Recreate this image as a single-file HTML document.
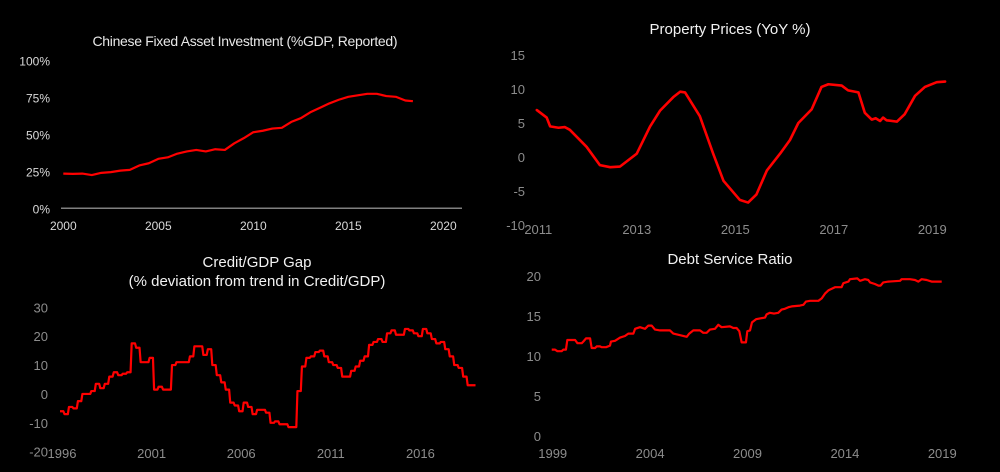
<!DOCTYPE html>
<html><head><meta charset="utf-8">
<style>
html,body{margin:0;padding:0;background:#000;}
svg{display:block;font-family:"Liberation Sans",sans-serif;}
</style></head>
<body>
<svg id="c" width="1000" height="472" viewBox="0 0 1000 472">
<rect width="1000" height="472" fill="#000"/>
</svg>
<script>
// Chart 1: Chinese FAI %GDP
const faiYears=[2000,2000.5,2001,2001.5,2002,2002.5,2003,2003.5,2004,2004.5,2005,2005.5,2006,2006.5,2007,2007.5,2008,2008.5,2009,2009.5,2010,2010.5,2011,2011.5,2012,2012.5,2013,2013.5,2014,2014.5,2015,2015.5,2016,2016.5,2017,2017.5,2018,2018.4];
const faiValues=[23.5,23.3,23.5,22.5,24,24.5,25.5,26,29,30.5,33.5,34.5,37,38.5,39.5,38.5,40,39.5,44,47.5,51.5,52.5,54,54.5,58.5,61,65,68,71,73.5,75.5,76.5,77.5,77.5,76,75.5,73,72.5];
const faiYTicks=[0,25,50,75,100];
const faiXTicks=[2000,2005,2010,2015,2020];
// Chart 2: Property prices YoY
const ppYears=[2010.97,2011.17,2011.24,2011.41,2011.54,2011.64,2011.98,2012.25,2012.46,2012.66,2013.0,2013.27,2013.47,2013.74,2013.88,2013.98,2014.28,2014.55,2014.76,2015.09,2015.26,2015.43,2015.64,2015.91,2016.11,2016.28,2016.55,2016.75,2016.89,2017.16,2017.29,2017.5,2017.63,2017.77,2017.85,2017.94,2018.0,2018.07,2018.28,2018.44,2018.65,2018.85,2019.09,2019.26];
const ppValues=[6.9,5.8,4.5,4.3,4.4,4.0,1.5,-1.2,-1.5,-1.4,0.5,4.5,6.8,8.8,9.6,9.5,6,0.5,-3.5,-6.3,-6.7,-5.5,-2,0.5,2.5,5,7,10.3,10.7,10.5,9.8,9.5,6.5,5.5,5.7,5.3,5.8,5.4,5.2,6.3,9,10.3,11,11.1];
const ppYTicks=[-10,-5,0,5,10,15];
const ppXTicks=[2011,2013,2015,2017,2019];
// Chart 3: Credit/GDP gap, quarterly from 1996Q1
const gapStart=1996;
const gapValues=[-6,-7,-4.5,-5,-2.5,0,0,1,3.5,2,3.5,6,7.5,6.5,7,7.5,17.5,16,11,11,12.5,1.5,2.5,1.5,1.5,10,11,11,11,13,16.5,16.5,13.5,15.5,10,6.5,4,1.5,-3,-4,-6,-3,-4.5,-7,-5.5,-5.5,-6.5,-10,-9.5,-10.5,-10.5,-11.5,-11.5,1,9.5,12.5,13,14.5,15,13,11,10,9,6,6,8,9.5,11.5,13,17,18,19,18,21,22,20.5,20.5,22.5,22,21,20,22.5,21,19,17.5,18,15.5,13,10,9,6,3,3];
const gapYTicks=[-20,-10,0,10,20,30];
const gapXTicks=[1996,2001,2006,2011,2016];
// Chart 4: Debt service ratio
const dsrYears=[1998.95,1999.12,1999.24,1999.46,1999.55,1999.68,1999.75,2000.15,2000.27,2000.49,2000.57,2000.71,2000.92,2001.0,2001.17,2001.26,2001.43,2001.51,2001.74,2001.94,2001.99,2002.2,2002.46,2002.71,2002.88,2003.14,2003.23,2003.48,2003.74,2003.91,2004.08,2004.25,2004.51,2005.02,2005.19,2005.54,2005.88,2006.01,2006.22,2006.56,2006.73,2006.9,2007.07,2007.33,2007.5,2007.67,2008.1,2008.27,2008.44,2008.58,2008.7,2008.92,2008.99,2009.13,2009.23,2009.44,2009.64,2009.9,2009.98,2010.15,2010.36,2010.58,2010.75,2010.92,2011.1,2011.27,2011.69,2011.87,2012.0,2012.21,2012.64,2012.81,2012.98,2013.15,2013.23,2013.49,2013.83,2013.92,2014.18,2014.26,2014.64,2014.78,2015.03,2015.2,2015.29,2015.54,2015.72,2015.83,2015.97,2016.23,2016.83,2016.91,2017.34,2017.6,2017.77,2017.94,2018.2,2018.45,2018.97];
const dsrValues=[10.8,10.8,10.6,10.6,10.8,10.8,12,12,11.6,11.6,11.8,12.2,12.2,11,11,11.2,11.2,11.1,11.1,11.3,11.8,11.9,12.3,12.5,12.8,12.8,13.4,13.6,13.4,13.8,13.8,13.3,13.2,13.2,12.8,12.6,12.4,12.8,13.2,13.2,12.9,12.9,13.3,13.4,13.9,13.6,13.7,13.5,13.5,13.1,11.7,11.7,13.1,13.2,14.2,14.6,14.7,14.8,15.2,15.4,15.3,15.4,15.8,15.9,16.1,16.2,16.3,16.4,16.8,16.9,16.9,17.2,17.8,18.2,18.3,18.6,18.6,19.1,19.3,19.6,19.7,19.4,19.6,19.5,19.2,19.0,18.8,18.8,19.2,19.3,19.4,19.6,19.6,19.5,19.3,19.6,19.5,19.3,19.3];
const dsrYTicks=[0,5,10,15,20];
const dsrXTicks=[1999,2004,2009,2014,2019];

const NS="http://www.w3.org/2000/svg";
const svg=document.getElementById('c');
function mk(tag,attrs,parent){const e=document.createElementNS(NS,tag);for(const k in attrs)e.setAttribute(k,attrs[k]);(parent||svg).appendChild(e);return e;}
function txt(s,x,y,anchor,size,fill,parent){const t=mk('text',{x:x,y:y,'text-anchor':anchor,'font-size':size,fill:fill},parent);t.textContent=s;return t;}

// ---- Chart 1
const g1=mk('g',{});


const x1=y=>63.3+(y-2000)*19, y1=v=>208.3-v*1.477;
const t1=txt('Chinese Fixed Asset Investment (%GDP, Reported)',245,46,'middle',14,'#e8e8e8',g1);


t1.setAttribute('textLength','305');
const ax1=mk('line',{x1:61,x2:462,y1:y1(0),y2:y1(0),stroke:'#808080','stroke-width':1.5},g1);


faiYTicks.forEach(v=>{const t=txt(v+'%',50,y1(v)+5,'end',12,'#d9d9d9',g1);

});
faiXTicks.forEach(v=>{const t=txt(String(v),x1(v),230,'middle',12,'#d9d9d9',g1);

});
const p1=mk('polyline',{points:faiYears.map((y,i)=>x1(y)+','+y1(faiValues[i])).join(' '),fill:'none',stroke:'#ff0000','stroke-width':2.2,'stroke-linejoin':'round'},g1);



// ---- Chart 2
const g2=mk('g',{});


const x2=y=>538.3+(y-2011)*49.25, y2=v=>55+(15-v)*6.8;
const t2=txt('Property Prices (YoY %)',730,34,'middle',15,'#f2f2f2',g2);


ppYTicks.forEach(v=>{const t=txt(String(v),525,y2(v)+5,'end',13,'#8c8c8c',g2);

});
ppXTicks.forEach(v=>{const t=txt(String(v),x2(v),234,'middle',13,'#8c8c8c',g2);

});
const p2=mk('polyline',{points:ppYears.map((y,i)=>x2(y)+','+y2(ppValues[i])).join(' '),fill:'none',stroke:'#ff0000','stroke-width':2.6,'stroke-linejoin':'round','stroke-linecap':'round'},g2);



// ---- Chart 3
const g3=mk('g',{});


const x3=y=>60+(y-1996)*17.92, y3=v=>307.3+(30-v)*2.888;
const t3a=txt('Credit/GDP Gap',257,267,'middle',15,'#f2f2f2',g3);


const t3b=txt('(% deviation from trend in Credit/GDP)',257,286,'middle',15,'#f2f2f2',g3);


gapYTicks.forEach(v=>{const t=txt(String(v),48,y3(v)+5,'end',13,'#8c8c8c',g3);

});
gapXTicks.forEach(v=>{const t=txt(String(v),x3(v)+2,458,'middle',13,'#8c8c8c',g3);

});
let pts3=[];
gapValues.forEach((v,i)=>{const a=gapStart+i/4,b=gapStart+(i+0.75)/4;pts3.push(x3(a)+','+y3(v));pts3.push(x3(b)+','+y3(v));});
const p3=mk('polyline',{points:pts3.join(' '),fill:'none',stroke:'#ff0000','stroke-width':2.2,'stroke-linejoin':'round'},g3);



// ---- Chart 4
const g4=mk('g',{});


const x4=y=>552.7+(y-1999)*19.48, y4=v=>276+(20-v)*8;
const t4=txt('Debt Service Ratio',730,264,'middle',15,'#f2f2f2',g4);


dsrYTicks.forEach(v=>{const t=txt(String(v),541,y4(v)+5,'end',13,'#8c8c8c',g4);

});
dsrXTicks.forEach(v=>{const t=txt(String(v),x4(v),458,'middle',13,'#8c8c8c',g4);

});
const p4=mk('polyline',{points:dsrYears.map((y,i)=>x4(y)+','+y4(dsrValues[i])).join(' '),fill:'none',stroke:'#ff0000','stroke-width':2.2,'stroke-linejoin':'round'},g4);


</script>
</body></html>
